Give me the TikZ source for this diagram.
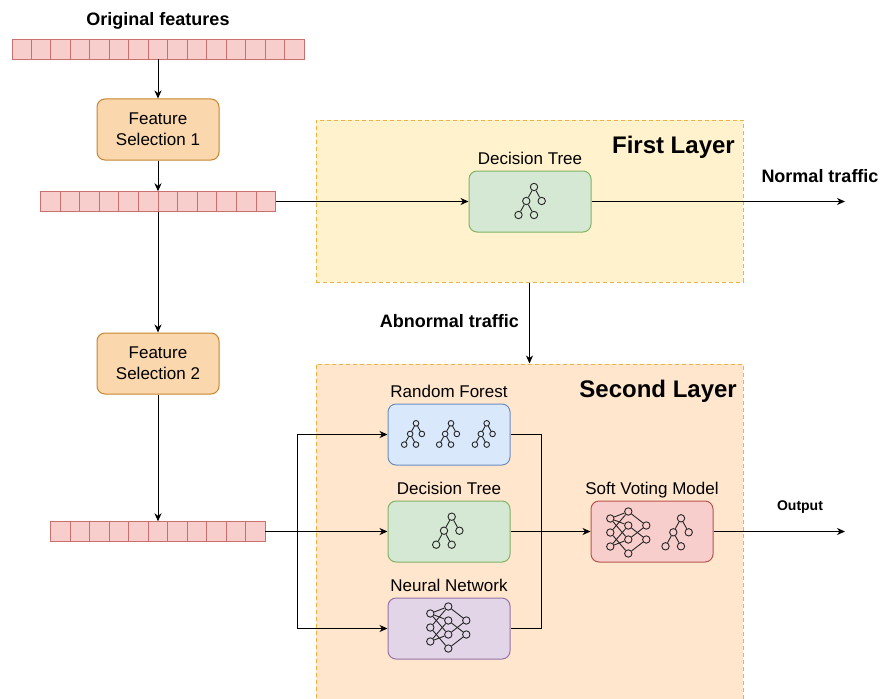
\documentclass[tikz,border=0pt]{standalone}
\usepackage{fontspec}
\setmainfont{Liberation Sans}
\usetikzlibrary{arrows.meta}

\newcommand{\fnorm}{\fontsize{17}{21}\selectfont}
\newcommand{\fboldlbl}{\bfseries\fontsize{18}{21}\selectfont}
\newcommand{\fbig}{\bfseries\fontsize{24}{28}\selectfont}
\newcommand{\fsmall}{\bfseries\fontsize{14}{16}\selectfont}

\definecolor{cellfill}{HTML}{F8CECC}
\definecolor{celldraw}{HTML}{C9706E}
\definecolor{fsfill}{HTML}{FAD7AC}
\definecolor{fsdraw}{HTML}{C8842E}
\definecolor{gfill}{HTML}{D5E8D4}
\definecolor{gdraw}{HTML}{82B366}
\definecolor{bfill}{HTML}{DAE8FC}
\definecolor{bdraw}{HTML}{6C8EBF}
\definecolor{pfill}{HTML}{E1D5E7}
\definecolor{pdraw}{HTML}{9673A6}
\definecolor{rfill}{HTML}{F8CECC}
\definecolor{rdraw}{HTML}{B85450}
\definecolor{lay1fill}{HTML}{FFF2CC}
\definecolor{lay2fill}{HTML}{FFE6CC}
\definecolor{laydraw}{HTML}{F0B23C}

\begin{document}
\begin{tikzpicture}[x=1pt,y=-1pt,
    every node/.style={font=\fnorm},
    box/.style={draw, rounded corners=8pt, minimum width=122pt, minimum height=61pt, line width=1pt, align=center, inner sep=0pt},
    lbl/.style={inner sep=0pt, text depth=0pt, font=\fnorm},
    cell/.style={fill=cellfill, draw=celldraw, line width=0.9pt},
    rowbox/.style={minimum height=20pt, inner sep=0pt},
    layerbox/.style={draw=laydraw, dash pattern=on 4pt off 3pt, line width=1pt, inner sep=0pt},
    arr/.style={-{Stealth[length=8pt,width=7pt,inset=2.5pt]}, line width=1pt},
    line/.style={line width=1pt},
    tnode/.style={circle, draw=black!85, line width=0.9pt, minimum size=7.4pt, inner sep=0pt},
    icon/.style={draw=black!85, line width=0.9pt},
    dtree/.pic={
        \node[tnode] (-a) at (0,0) {};
        \node[tnode] (-b) at (-7.7,14) {};
        \node[tnode] (-c) at (7.7,14) {};
        \node[tnode] (-d) at (-15.5,28) {};
        \node[tnode] (-e) at (0,28) {};
        \draw[icon] (-a) -- (-b) (-a) -- (-c) (-b) -- (-d) (-b) -- (-e);
    },
    nnet/.pic={
        \foreach \j/\yy in {1/-14,2/0,3/14} \node[tnode] (-i\j) at (-18,\yy) {};
        \foreach \j/\yy in {1/-21,2/-7,3/7,4/21} \node[tnode] (-h\j) at (0,\yy) {};
        \foreach \j/\yy in {1/-7,2/7} \node[tnode] (-o\j) at (18,\yy) {};
        \foreach \a/\b in {1/1,1/2,1/3,2/1,2/4,3/2,3/3} \draw[icon] (-i\a) -- (-h\b);
        \foreach \b/\c in {1/1,2/2,3/1,4/2} \draw[icon] (-h\b) -- (-o\c);
    }]

    \clip (0,0) rectangle (882,698);

    % Draw the two layers
    \node[layerbox, fill=lay1fill, minimum width=427pt, minimum height=162pt] (lay1) at (529.5,201) {};
    \node[layerbox, fill=lay2fill, minimum width=427pt, minimum height=356pt] (lay2) at (529.5,542) {};
    \node[font=\fbig, anchor=base east, inner sep=0pt] (lay1txt) at (735,153) {First Layer};
    \node[font=\fbig, anchor=base east, inner sep=0pt] (lay2txt) at (737,397) {Second Layer};

    % Draw the feature rows
    \node[font=\fboldlbl, anchor=base, inner sep=0pt] (origtxt) at (158,26) {Original features};
    \node[rowbox, minimum width=292pt] (frow1) at (158,49) {};
    \foreach \i in {0,...,14} \draw[cell] ({12+\i*19.47},39) rectangle ++(19.47,20);
    \node[rowbox, minimum width=235.2pt] (frow2) at (158,201.5) {};
    \foreach \i in {0,...,11} \draw[cell] ({40.4+\i*19.6},191.5) rectangle ++(19.6,20);
    \node[rowbox, minimum width=214.5pt] (frow3) at (158,531.5) {};
    \foreach \i in {0,...,10} \draw[cell] ({50.75+\i*19.5},521.5) rectangle ++(19.5,20);

    % Draw the feature selection boxes
    \node[box, fill=fsfill, draw=fsdraw] (fs1) at (158,129.5) {Feature\\Selection 1};
    \node[box, fill=fsfill, draw=fsdraw] (fs2) at (158,363.5) {Feature\\Selection 2};

    % Draw the models
    \node[box, fill=gfill, draw=gdraw, label={[lbl, label distance=6pt]above:Decision Tree}] (dt1) at (530,201.5) {};
    \node[box, fill=bfill, draw=bdraw, label={[lbl, label distance=6pt]above:Random Forest}] (rf) at (449,434.5) {};
    \node[box, fill=gfill, draw=gdraw, label={[lbl, label distance=6pt]above:Decision Tree}] (dt2) at (449,531.5) {};
    \node[box, fill=pfill, draw=pdraw, label={[lbl, label distance=6pt]above:Neural Network}] (nn) at (449,628.5) {};
    \node[box, fill=rfill, draw=rdraw, label={[lbl, label distance=6pt]above:Soft Voting Model}] (svm) at (652,531.5) {};

    % Draw the icons
    \pic at (534,187) {dtree};
    \pic[scale=0.76, transform shape] at (416,423.3) {dtree};
    \pic[scale=0.76, transform shape] at (451,423.3) {dtree};
    \pic[scale=0.76, transform shape] at (486.7,423.3) {dtree};
    \pic at (451.7,516.7) {dtree};
    \pic at (448.3,627.5) {nnet};
    \pic at (628.3,532.5) {nnet};
    \pic at (681,518.3) {dtree};

    % Draw the connectors
    \coordinate (normal) at (845,201.5);
    \coordinate (split) at (297,531.5);
    \coordinate (merge) at (541,531.5);
    \coordinate (out) at (845,531.5);
    \draw[arr] (frow1.south) -- (fs1.north);
    \draw[arr] (fs1.south) -- (frow2.north);
    \draw[arr] (frow2.south) -- (fs2.north);
    \draw[arr] (fs2.south) -- (frow3.north);
    \draw[arr] (frow2.east) -- (dt1.west);
    \draw[arr] (dt1.east) -- (normal);
    \draw[arr] (lay1.south) -- (lay2.north);
    \draw[arr] (frow3.east) -- (dt2.west);
    \draw[arr] (split) |- (rf.west);
    \draw[arr] (split) |- (nn.west);
    \draw[line] (rf.east) -| (merge);
    \draw[line] (nn.east) -| (merge);
    \draw[arr] (dt2.east) -- (svm.west);
    \draw[arr] (svm.east) -- (out);

    % Draw the traffic labels
    \node[font=\fboldlbl, anchor=base, inner sep=0pt] (normtxt) at (820,182) {Normal traffic};
    \node[font=\fboldlbl, anchor=base east, inner sep=0pt] (abntxt) at (519,327.3) {Abnormal traffic};
    \node[font=\fsmall, anchor=base, inner sep=0pt] (outtxt) at (800,510.5) {Output};

\end{tikzpicture}
\end{document}
